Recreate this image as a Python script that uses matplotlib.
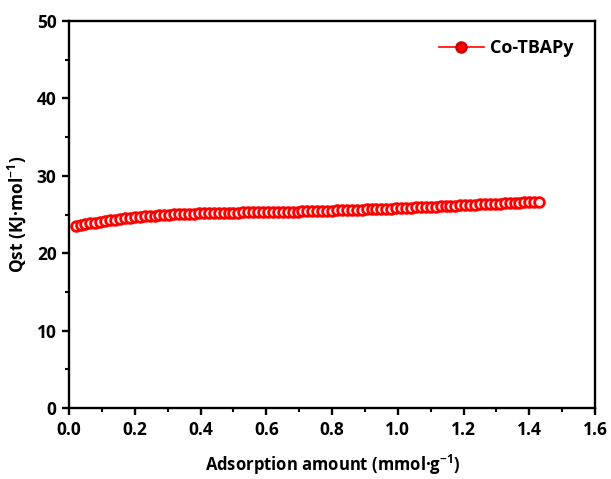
import matplotlib
matplotlib.use('Agg')
import matplotlib.pyplot as plt
from matplotlib.ticker import MultipleLocator

plt.rcParams['font.family'] = ['Open Sans', 'DejaVu Sans']
plt.rcParams['font.weight'] = 'bold'
plt.rcParams['mathtext.fontset'] = 'custom'
plt.rcParams['mathtext.rm'] = 'Open Sans:bold'
plt.rcParams['mathtext.default'] = 'rm'

# adsorption amount (mmol/g)
amount = [0.020, 0.035, 0.050, 0.065, 0.080, 0.095, 0.110, 0.125, 0.140, 0.155,
          0.170, 0.185, 0.200, 0.215, 0.230, 0.245, 0.260, 0.275, 0.290, 0.305,
          0.320, 0.335, 0.350, 0.365, 0.380, 0.395, 0.410, 0.425, 0.440, 0.455,
          0.470, 0.485, 0.500, 0.515, 0.530, 0.545, 0.560, 0.575, 0.590, 0.605,
          0.620, 0.635, 0.650, 0.665, 0.680, 0.695, 0.710, 0.725, 0.740, 0.755,
          0.770, 0.785, 0.800, 0.815, 0.830, 0.845, 0.860, 0.875, 0.890, 0.905,
          0.920, 0.935, 0.950, 0.965, 0.980, 0.995, 1.010, 1.025, 1.040, 1.055,
          1.070, 1.085, 1.100, 1.115, 1.130, 1.145, 1.160, 1.175, 1.190, 1.205,
          1.220, 1.235, 1.250, 1.265, 1.280, 1.295, 1.310, 1.325, 1.340, 1.355,
          1.370, 1.385, 1.400, 1.415, 1.430]
# isosteric heat Qst (kJ/mol)
qst = [23.50, 23.62, 23.74, 23.85, 23.96, 24.06, 24.16, 24.25, 24.34, 24.42,
       24.50, 24.57, 24.64, 24.70, 24.76, 24.81, 24.86, 24.91, 24.95, 24.99,
       25.03, 25.06, 25.09, 25.12, 25.14, 25.16, 25.18, 25.20, 25.21, 25.23,
       25.24, 25.25, 25.26, 25.27, 25.28, 25.29, 25.30, 25.31, 25.32, 25.33,
       25.34, 25.35, 25.36, 25.37, 25.38, 25.39, 25.41, 25.42, 25.44, 25.45,
       25.47, 25.49, 25.51, 25.53, 25.55, 25.57, 25.59, 25.61, 25.63, 25.66,
       25.68, 25.71, 25.73, 25.76, 25.78, 25.81, 25.84, 25.86, 25.89, 25.92,
       25.95, 25.98, 26.01, 26.04, 26.07, 26.10, 26.13, 26.16, 26.19, 26.22,
       26.25, 26.28, 26.31, 26.34, 26.37, 26.40, 26.43, 26.46, 26.49, 26.52,
       26.55, 26.58, 26.62, 26.65, 26.68]

fig = plt.figure(figsize=(6.11, 4.79), dpi=100)
ax = fig.add_axes([0.113, 0.148, 0.861, 0.808])

ax.plot(amount, qst, color='red', linewidth=1.2, marker='o', markersize=7,
        markerfacecolor='#fff0f0', markeredgecolor='red', markeredgewidth=2.0,
        label='Co-TBAPy')

ax.set_xlim(0, 1.6)
ax.set_ylim(0, 50)
ax.xaxis.set_major_locator(MultipleLocator(0.2))
ax.xaxis.set_minor_locator(MultipleLocator(0.1))
ax.yaxis.set_major_locator(MultipleLocator(10))
ax.yaxis.set_minor_locator(MultipleLocator(5))
ax.xaxis.set_major_formatter(plt.FormatStrFormatter('%.1f'))

for s in ax.spines.values():
    s.set_linewidth(1.7)
ax.tick_params(which='major', direction='out', length=5, width=1.7, labelsize=12.5, pad=4)
ax.tick_params(which='minor', direction='out', length=3, width=1.5)

ax.set_xlabel('Adsorption amount (mmol·g$^{-1}$)', fontsize=12, fontweight='bold', labelpad=10)
ax.set_ylabel('Qst (KJ·mol$^{-1}$)', fontsize=12.5, fontweight='bold', labelpad=6)

leg = ax.legend(loc='center left', frameon=False, fontsize=13, handlelength=2.5,
                handletextpad=0.35, borderpad=0, borderaxespad=0,
                bbox_to_anchor=(0.703, 0.930))
leg.legend_handles[0].set_markerfacecolor('red')
leg.legend_handles[0].set_markeredgecolor('#cc0000')

fig.savefig('out.png', dpi=100)
